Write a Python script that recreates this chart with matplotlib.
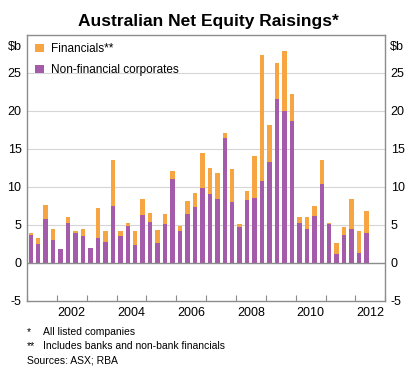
import numpy as np
import matplotlib
matplotlib.use("Agg")
import matplotlib.pyplot as plt

plt.rcParams['font.family'] = ['Liberation Sans', 'DejaVu Sans']

# quarterly, 2001 Q1 to 2012 Q2 ($b)
non_financial = [3.66, 2.5, 5.73, 3.08, 1.85, 5.29, 3.88, 3.52, 2.0, 3.22, 2.82, 7.49,
                 3.52, 4.8, 2.42, 6.34, 5.37, 2.6, 5.15, 11.0, 4.19, 6.39, 7.31, 9.82,
                 9.03, 8.41, 16.4, 8.06, 4.67, 8.24, 8.5, 10.75, 13.3, 21.6, 19.96, 18.7,
                 5.24, 4.45, 6.12, 10.35, 5.07, 1.19, 3.74, 4.49, 1.28, 3.96]
totals = [4.0, 3.26, 7.58, 4.5, 1.85, 6.08, 4.19, 4.5, 2.0, 7.18, 4.27, 13.5,
          4.27, 5.24, 4.19, 8.46, 6.56, 4.4, 6.43, 12.07, 4.85, 8.1, 9.16, 14.45,
          12.56, 11.9, 17.1, 12.3, 5.15, 9.47, 14.1, 27.3, 18.2, 26.3, 27.9, 22.2,
          6.0, 6.04, 7.44, 13.5, 5.29, 2.69, 4.67, 8.46, 4.23, 6.87]
# two quarters had small net negative financials
financials = [t - n for t, n in zip(totals, non_financial)]
financials[4] = -0.15
financials[8] = -0.2

start_year = 2001
year_labels = [2002, 2004, 2006, 2008, 2010, 2012]

orange = '#F7A443'
purple = '#A45BAA'
gray = '#8C8C8C'

nonfin = np.array(non_financial)
fin = np.array(financials)
x = start_year + (np.arange(len(nonfin)) + 0.5) / 4

fig = plt.figure(figsize=(4.16, 3.72), dpi=100)
ax = fig.add_axes([0.065, 0.191, 0.861, 0.715])

ax.bar(x, nonfin, width=0.15, color=purple, label='Non-financial corporates', zorder=3)
ax.bar(x, fin, width=0.15, bottom=np.where(fin >= 0, nonfin, 0), color=orange,
       label='Financials**', zorder=2)

ax.set_xlim(2001, 2013)
ax.set_ylim(-5, 30)

ax.set_yticks([-5, 0, 5, 10, 15, 20, 25])
ax.set_yticklabels(['-5', '0', '5', '10', '15', '20', '25'])
ax.tick_params(axis='y', length=0, labelsize=9, labelright=True, pad=4)
for y in [5, 10, 15, 20, 25]:
    ax.axhline(y, color='#D5D5D5', lw=0.8, zorder=0)
ax.axhline(0, color=gray, lw=1, zorder=4)

ax.set_xticks(np.arange(2001, 2014))
ax.set_xticklabels([])
ax.tick_params(axis='x', which='major', direction='in', length=4, color=gray)
ax.set_xticks([yr + 0.5 for yr in year_labels], minor=True)
ax.set_xticklabels([str(yr) for yr in year_labels], minor=True)
ax.tick_params(axis='x', which='minor', length=0, labelsize=9, pad=4)

for s in ax.spines.values():
    s.set_color(gray)
    s.set_linewidth(1)

ax.text(-0.015, 0.955, '$b', transform=ax.transAxes, ha='right', va='center', fontsize=9)
ax.text(1.013, 0.955, '$b', transform=ax.transAxes, ha='left', va='center', fontsize=9)

handles, labels = ax.get_legend_handles_labels()
ax.legend(handles[::-1], labels[::-1], loc='upper left', frameon=False, fontsize=8.5,
          handlelength=0.7, handleheight=0.7, handletextpad=0.6, labelspacing=0.75,
          borderaxespad=0.3, bbox_to_anchor=(0.0, 1.0))

fig.text(0.5, 0.943, 'Australian Net Equity Raisings*', ha='center', va='center',
         fontsize=12.5, fontweight='bold')

fig.text(0.065, 0.108, '*', fontsize=7.5, va='center')
fig.text(0.104, 0.108, 'All listed companies', fontsize=7.5, va='center')
fig.text(0.065, 0.069, '**', fontsize=7.5, va='center')
fig.text(0.104, 0.069, 'Includes banks and non-bank financials', fontsize=7.5, va='center')
fig.text(0.065, 0.031, 'Sources: ASX; RBA', fontsize=7.5, va='center')

fig.savefig('out.png', dpi=100)
